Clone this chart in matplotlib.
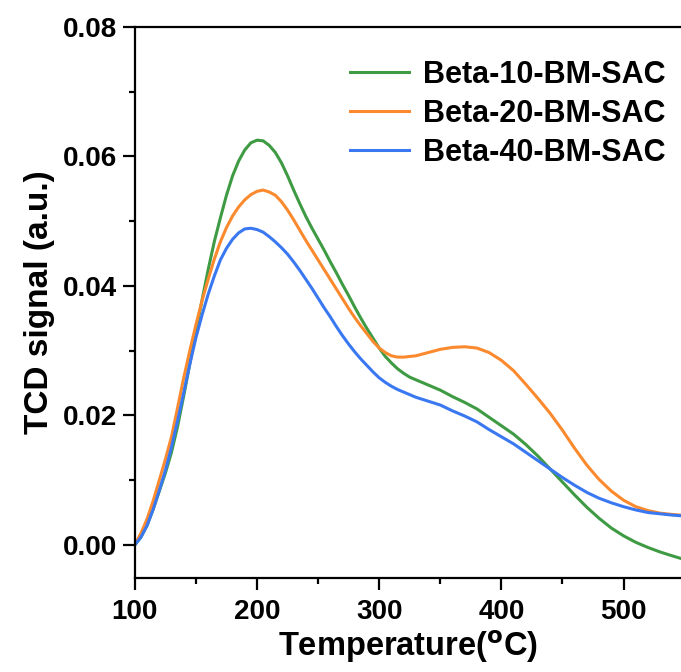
import matplotlib.pyplot as plt
from matplotlib.ticker import MultipleLocator

# temperature grid (deg C)
temperature = [100, 105, 110, 115, 120, 125, 130, 135, 140, 145,
               150, 155, 160, 165, 170, 175, 180, 185, 190, 195,
               200, 205, 210, 215, 220, 225, 230, 235, 240, 245,
               250, 255, 260, 265, 270, 275, 280, 285, 290, 295,
               300, 305, 310, 315, 320, 325, 330,
               340, 350, 360, 370, 380, 390, 400, 410, 420, 430,
               440, 450, 460, 470, 480, 490, 500, 510, 520, 530,
               540, 547]

beta10 = [0.0, 0.0012, 0.0030, 0.0055, 0.0083, 0.0111, 0.0143, 0.0183, 0.0230, 0.0280,
          0.0330, 0.0378, 0.0425, 0.0468, 0.0505, 0.0540, 0.0570, 0.0593, 0.0610, 0.0621,
          0.0625, 0.0624, 0.0617, 0.0606, 0.0590, 0.0570, 0.0548, 0.0527, 0.0507, 0.0489,
          0.0472, 0.0455, 0.0437, 0.0420, 0.0402, 0.0385, 0.0367, 0.0350, 0.0334, 0.0319,
          0.0304, 0.0291, 0.0281, 0.0272, 0.0265, 0.0259, 0.0255,
          0.0247, 0.0239, 0.0229, 0.0220, 0.0210, 0.0197, 0.0184, 0.0171, 0.0155, 0.0137,
          0.0117, 0.0097, 0.0077, 0.0058, 0.0041, 0.0026, 0.0014, 0.0004, -0.0004, -0.0011,
          -0.0017, -0.0021]

beta20 = [0.0, 0.0018, 0.0040, 0.0068, 0.0100, 0.0132, 0.0167, 0.0212, 0.0258, 0.0300,
          0.0340, 0.0377, 0.0410, 0.0441, 0.0468, 0.0490, 0.0508, 0.0522, 0.0533, 0.0541,
          0.0546, 0.0548, 0.0545, 0.0540, 0.0530, 0.0517, 0.0502, 0.0486, 0.0470, 0.0455,
          0.0440, 0.0425, 0.0410, 0.0395, 0.0380, 0.0365, 0.0351, 0.0338, 0.0326, 0.0314,
          0.0304, 0.0297, 0.0292, 0.0290, 0.0290, 0.0291, 0.0292,
          0.0297, 0.0302, 0.0305, 0.0306, 0.0304, 0.0297, 0.0285, 0.0269, 0.0248, 0.0226,
          0.0203, 0.0177, 0.0149, 0.0123, 0.0101, 0.0083, 0.0069, 0.0059, 0.0053, 0.0049,
          0.0047, 0.0046]

beta40 = [0.0, 0.0012, 0.0030, 0.0055, 0.0084, 0.0115, 0.0151, 0.0192, 0.0235, 0.0279,
          0.0320, 0.0355, 0.0387, 0.0415, 0.0440, 0.0458, 0.0472, 0.0482, 0.0488, 0.0489,
          0.0487, 0.0483, 0.0476, 0.0468, 0.0459, 0.0449, 0.0437, 0.0424, 0.0410, 0.0396,
          0.0381, 0.0366, 0.0352, 0.0337, 0.0323, 0.0310, 0.0298, 0.0287, 0.0277, 0.0267,
          0.0258, 0.0251, 0.0245, 0.0240, 0.0236, 0.0232, 0.0228,
          0.0222, 0.0216, 0.0207, 0.0199, 0.0190, 0.0178, 0.0167, 0.0156, 0.0143, 0.0130,
          0.0117, 0.0104, 0.0092, 0.0081, 0.0072, 0.0065, 0.0059, 0.0054, 0.0050, 0.0048,
          0.0046, 0.0045]

labels = ['Beta-10-BM-SAC', 'Beta-20-BM-SAC', 'Beta-40-BM-SAC']
colors = ['#3f9b43', '#fb8a2e', '#3a78f2']

plt.rcParams['font.family'] = ['Liberation Sans', 'DejaVu Sans']
plt.rcParams['font.weight'] = 'bold'
plt.rcParams['mathtext.default'] = 'regular'

fig = plt.figure(figsize=(6.81, 6.72), dpi=100)
ax = fig.add_axes([0.198, 0.140, 0.802, 0.820])

for series, lab, col in zip([beta10, beta20, beta40], labels, colors):
    ax.plot(temperature, series, color=col, lw=2.2, label=lab)

ax.set_xlim(100, 547)
ax.set_ylim(-0.0051, 0.08)
ax.xaxis.set_major_locator(MultipleLocator(100))
ax.xaxis.set_minor_locator(MultipleLocator(50))
ax.yaxis.set_major_locator(MultipleLocator(0.02))
ax.yaxis.set_minor_locator(MultipleLocator(0.01))
ax.yaxis.set_major_formatter(lambda v, p: f'{v:.2f}')

ax.spines['right'].set_visible(False)
for s in ['left', 'bottom', 'top']:
    ax.spines[s].set_linewidth(1.6)
ax.tick_params(which='major', direction='out', length=8.5, width=1.6, labelsize=20, pad=4)
ax.tick_params(axis='x', which='major', pad=7)
ax.tick_params(which='minor', direction='out', length=4.5, width=1.6)
ax.tick_params(top=False, right=False, which='both')

ax.set_xlabel('Temperature($^\\mathbf{o}$C)', fontsize=23.5, fontweight='bold', labelpad=2)
ax.set_ylabel('TCD signal (a.u.)', fontsize=24, fontweight='bold', labelpad=6)

leg = ax.legend(loc='upper right', bbox_to_anchor=(1.0, 0.968), frameon=False,
                prop={'size': 22, 'weight': 'bold'}, handlelength=1.95,
                handletextpad=0.45, labelspacing=0.3, borderaxespad=0.1)

fig.savefig('out.png', dpi=100)
